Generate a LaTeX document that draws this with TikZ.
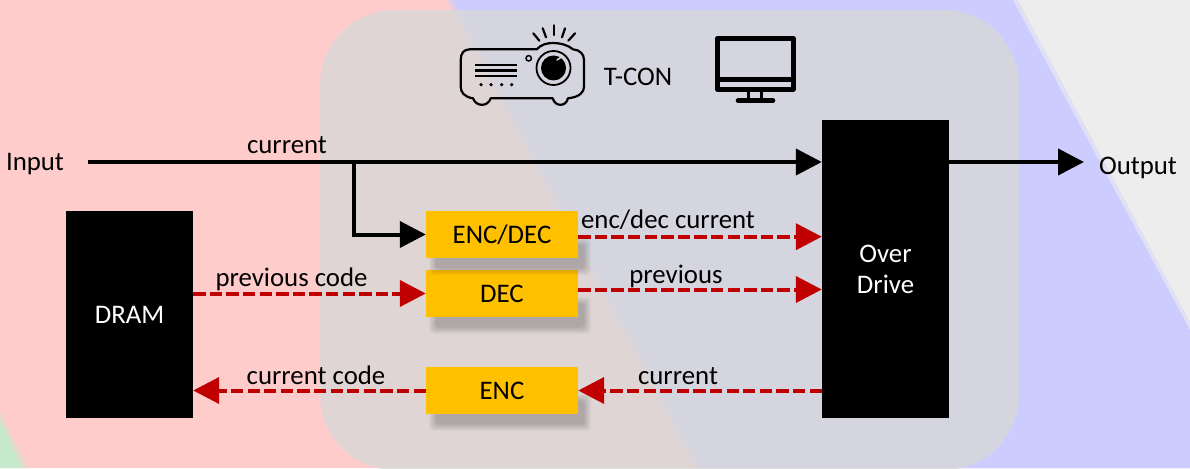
\documentclass[tikz,border=0pt]{standalone}
\usepackage{fontspec}
\setmainfont{Carlito}
\usetikzlibrary{arrows.meta,calc}
\definecolor{bgred}{RGB}{255,204,204}
\definecolor{bgblue}{RGB}{204,204,255}
\definecolor{bggrey}{RGB}{237,237,237}
\definecolor{bggreen}{RGB}{198,232,204}
\definecolor{panelgrey}{RGB}{216,216,216}
\definecolor{boxorange}{RGB}{255,192,0}
\definecolor{dashred}{RGB}{192,0,0}
\newcommand{\softshadow}[4]{%
  \foreach \d in {7,6,5,4,3,2,1,0}{
    \fill[black,opacity=0.028,rounded corners=4pt] ({#1-\d},{#2-\d}) rectangle ({#3+\d},{#4+\d});
  }}
\tikzset{
  x=1pt,y=-1pt,
  lab/.style={inner sep=0pt,font=\fontsize{26.8}{31}\selectfont,text=black},
  blackbox/.style={fill=black,inner sep=0pt,text=white,align=center,font=\fontsize{26.8}{31}\selectfont},
  orangebox/.style={fill=boxorange,inner sep=0pt,minimum width=152pt,minimum height=47pt,text=black,font=\fontsize{26.8}{31}\selectfont},
  solidarrow/.style={line width=4pt,-{Triangle[length=26pt,width=26pt]}},
  dasharrow/.style={line width=4pt,dashred,dash pattern=on 12.3pt off 4.3pt,-{Triangle[length=26pt,width=26pt]}},
  iconline/.style={line width=2.2pt,line cap=round,line join=round},
  monline/.style={line width=4.6pt,line cap=round,line join=round}
}
\begin{document}
\begin{tikzpicture}
\useasboundingbox (0,0) rectangle (1190,468);
% background
\fill[bgred] (0,0) rectangle (1190,468);
\fill[bggreen!50!bgred] (0,412) -- (28,468) -- (0,468) -- cycle;
\fill[bggreen] (0,420) -- (22,468) -- (0,468) -- cycle;
\fill[bgblue!50!bgred] (447,0) -- (1190,0) -- (1190,468) -- (695,468) -- cycle;
\fill[bgblue] (452,0) -- (1190,0) -- (1190,468) -- (700,468) -- cycle;
\fill[bggrey!60!bgblue] (1013,0) -- (1190,0) -- (1190,330) -- cycle;
\fill[bggrey] (1018,0) -- (1190,0) -- (1190,322) -- cycle;
% panel
\fill[panelgrey,opacity=0.8,rounded corners=75pt] (320,10) rectangle (1019,470);
% projector icon
\draw[iconline] (470,49.3) -- (536.7,49.3) .. controls (541,44.5) and (547,43) .. (553.3,43) .. controls (560,43) and (568,45) .. (573,49.3)
  .. controls (580,50) and (584,54) .. (584,60) -- (584,86.7) .. controls (584,92) and (580,97) .. (568,98.3)
  .. controls (566,107) and (555,107) .. (552.7,98.3) -- (490.7,98.3)
  .. controls (488,107) and (476,107) .. (473,98.3) .. controls (464,97) and (460.7,92) .. (460.7,86.7) -- (460.7,60) .. controls (460.7,53) and (464,49.3) .. (470,49.3);
\foreach \yy in {65,70.7,76}{\draw[line width=2.4pt] (475,\yy) -- (516.7,\yy);}
\foreach \xx in {481,491,501.7,511.7}{\fill (\xx,84.7) circle[radius=1.8];}
\draw[line width=1.5pt] (528.7,58.3) circle[radius=2.7];
\draw[line width=1.8pt] (553.5,68) circle[radius=17];
\fill (553.5,68) circle[radius=12.5];
\draw[panelgrey,line width=1.5pt,line cap=round] (557,60) arc[start angle=70,end angle=20,radius=8];
\foreach \xa/\ya/\xb/\yb in {533.3/33.3/539.3/40.7,542.7/28.3/546/37.3,553.7/25.3/553.7/35,565/28.3/562/37.3,575/33.3/568.3/40.7}{
  \draw[iconline] (\xa,\ya) -- (\xb,\yb);}
% monitor icon
\draw[monline] (717.3,38.3) rectangle (793.3,89.3);
\draw[line width=5pt] (717.3,80) -- (793.3,80);
\draw[line width=3.5pt] (748.3,90) -- (748.3,100);
\draw[line width=3.5pt] (761.7,90) -- (761.7,100);
\draw[monline] (738,100.7) -- (773,100.7);
% blocks
\node[blackbox,minimum width=127pt,minimum height=207pt] (dram) at (129.5,314.5) {\raisebox{-1.5pt}{DRAM}};
\node[blackbox,minimum width=127pt,minimum height=298pt] (od) at (885.5,269) {\raisebox{-1pt}{Over}\\\raisebox{-1pt}{Drive}};
\softshadow{436}{401}{584}{424}
\node[orangebox] (enc) at (502,390.5) {ENC};
\softshadow{436}{304}{584}{327}
\node[orangebox] (dec) at (502,293.5) {DEC};
\softshadow{436}{245}{584}{268}
\node[orangebox] (encdec) at (502,234.5) {ENC/DEC};
% terminals
\node[lab] (input) at (35,164.5) {Input};
\node[lab] (output) at (1138,168) {Output};
\coordinate (instart) at (88,162);
\coordinate (outend) at (1084,162);
\coordinate (branch) at (354,162);
% connectors
\draw[solidarrow] (instart) -- (instart -| od.west);
\draw[solidarrow] (branch) |- (encdec.west);
\draw[solidarrow] (outend -| od.east) -- (outend);
\draw[dasharrow] ([yshift=-2.2pt]encdec.east) -- ([yshift=-2.2pt]encdec.east -| od.west);
\draw[dasharrow] (dram.east |- dec.west) -- (dec.west);
\draw[dasharrow] ([yshift=4pt]dec.east) -- ([yshift=4pt]dec.east -| od.west);
\draw[dasharrow] (od.west |- enc.east) -- (enc.east);
\draw[dasharrow] (enc.west) -- (enc.west -| dram.east);
% labels
\node[lab] (l1) at (287,145) {current};
\node[lab] (l2) at (668,220) {enc/dec current};
\node[lab] (l3) at (676,276) {previous};
\node[lab] (l4) at (291.5,279) {previous code};
\node[lab] (l5) at (316,375) {current code};
\node[lab] (l6) at (678,376) {current};
\node[lab] (tcon) at (638,76.5) {T-CON};
\end{tikzpicture}
\end{document}
